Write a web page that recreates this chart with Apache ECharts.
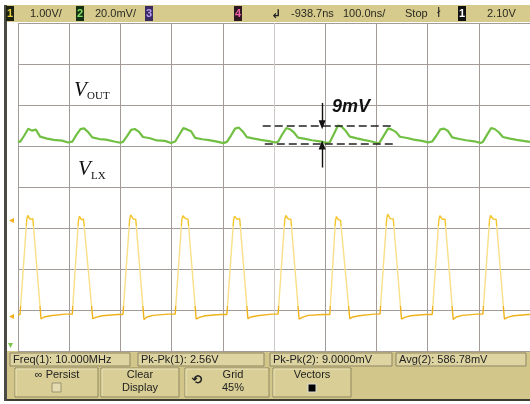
<!DOCTYPE html>
<html><head><meta charset="utf-8">
<script src="https://cdn.jsdelivr.net/npm/echarts/dist/echarts.min.js"></script>
<style>html,body{margin:0;padding:0;background:#fff;}#c{width:530px;height:404px;}</style>
</head><body><div id="c"></div>
<script>
// ---- time base (ns), 100 ns/div, 10 divisions ----
const timeTicks = [0,100,200,300,400,500,600,700,800,900,1000];

// ---- Channel 2 (V_OUT, mV) ----
const greenT = [0,
  4,12,20,27,35,43,57,70,86,98,
  106,114,122,129,137,145,159,172,188,200,
  205,213,221,228,236,244,258,271,287,299,
  307,315,323,330,338,346,360,373,389,401,
  408,416,424,431,439,447,461,474,490,502,
  508,516,524,531,539,547,561,574,590,602,
  609,617,625,632,640,648,662,675,691,703,
  707,715,723,730,738,746,760,773,789,801,
  809,817,825,832,840,848,862,875,891,903,
  908,916,924,931,939,947,961,974,990,1000];
const greenV = [583.4,
  583.0,586.0,589.4,588.5,589.0,585.6,584.6,584.0,583.6,582.7,
  583.1,586.4,589.2,589.6,587.8,585.2,584.4,584.1,583.2,582.6,
  583.0,585.8,588.9,589.3,588.0,585.4,584.8,583.7,583.5,582.5,
  583.2,586.5,589.7,589.1,588.2,585.0,584.3,583.9,583.1,582.4,
  583.0,586.1,589.5,590.0,588.1,585.3,584.6,584.0,583.4,582.7,
  583.1,586.6,589.8,589.2,587.6,585.1,584.5,583.8,583.3,582.5,
  582.8,586.9,591.0,590.4,588.4,585.6,584.7,584.0,583.2,582.3,
  583.0,586.3,589.6,589.0,587.9,585.5,584.9,584.1,583.5,582.8,
  583.2,586.0,589.1,589.5,588.3,585.2,584.4,583.8,583.3,582.5,
  583.0,586.4,589.7,589.3,587.7,585.4,584.6,584.0,583.4,583.0];

// ---- Channel 1 (V_LX, V) ----
const yellowT = [0,
  4,17,19,24,29,45,51,63,92,
  106,118,120,124,128,146,152,164,194,
  205,218,220,225,230,246,252,264,293,
  307,320,322,327,332,348,354,366,395,
  408,421,423,428,433,449,455,467,496,
  508,521,523,528,533,549,555,567,596,
  609,620,622,626,630,648,654,666,695,
  707,720,722,727,733,749,755,767,795,
  809,822,824,829,834,850,856,868,897,
  908,921,923,928,934,950,956,968,996,1000];
const yellowV = [0.03,
  0.04,2.34,2.46,2.36,2.38,-0.07,-0.02,0.01,0.05,
  0.05,2.33,2.44,2.35,2.37,-0.06,-0.03,0.01,0.04,
  0.04,2.35,2.47,2.37,2.36,-0.08,-0.02,0.02,0.05,
  0.05,2.36,2.45,2.38,2.37,-0.07,-0.03,0.01,0.04,
  0.04,2.34,2.44,2.36,2.38,-0.06,-0.02,0.01,0.05,
  0.05,2.35,2.46,2.37,2.36,-0.07,-0.03,0.02,0.04,
  0.04,2.33,2.43,2.35,2.34,-0.06,-0.02,0.01,0.05,
  0.05,2.36,2.49,2.38,2.37,-0.07,-0.03,0.01,0.04,
  0.04,2.35,2.45,2.36,2.37,-0.08,-0.02,0.02,0.05,
  0.05,2.35,2.46,2.37,2.36,-0.07,-0.03,0.01,0.04,0.04];

// ---- 9 mV measurement cursors (mV on channel 2) ----
const cursorHigh = 591.0, cursorLow = 582.3;
const cursorT = [478, 731];
const arrowT = 594;

// ---- labels ----
const headerLeft = ['1.00V/', '20.0mV/'];
const headerRight = ['-938.7ns', '100.0ns/', 'Stop', '2.10V'];
const measurements = ['Freq(1): 10.000MHz', 'Pk-Pk(1): 2.56V', 'Pk-Pk(2): 9.0000mV', 'Avg(2): 586.78mV'];

const chart = echarts.init(document.getElementById('c'), null, {renderer:'canvas'});
const gridCol = '#a39b98';
const vCols = [];
for (let i = 0; i <= 10; i++) vCols.push(i === 5 ? '#cfcac8' : gridCol);

const F = '"Liberation Sans", Arial, sans-serif';
const g = [];
// background panels
g.push({type:'rect', z:0, shape:{x:5,y:5,width:525,height:17}, style:{fill:'#d6ca8c'}});
g.push({type:'rect', z:0, shape:{x:5,y:351,width:525,height:49}, style:{fill:'#d2c68a'}});
g.push({type:'rect', z:0, shape:{x:5,y:399,width:525,height:2}, style:{fill:'#3e3b30'}});
g.push({type:'rect', z:0, shape:{x:4,y:5,width:3,height:396}, style:{fill:'#4b4a44'}});
// header badges
function badge(x, txt, bg, fg){
  g.push({type:'rect', z:1, shape:{x:x,y:6,width:8,height:15}, style:{fill:bg}});
  g.push({type:'text', z:2, x:x+4, y:14, style:{text:txt, fill:fg, font:'bold 11px '+F, textAlign:'center', textVerticalAlign:'middle'}});
}
badge(6,'1','#1c2212','#e6cf3c');
badge(76,'2','#163016','#86e060');
badge(145,'3','#3a2c62','#b89af0');
badge(234,'4','#2c1820','#f062a8');
badge(458,'1','#111111','#ffffff');
function ht(x, txt){ g.push({type:'text', z:2, x:x, y:14, style:{text:txt, fill:'#2a2a22', font:'11px '+F, textVerticalAlign:'middle'}}); }
ht(30, headerLeft[0]);
ht(95, headerLeft[1]);
g.push({type:'text', z:2, x:271, y:15, style:{text:'↲', fill:'#222', font:'bold 12px "DejaVu Sans"', textVerticalAlign:'middle'}});
ht(291, headerRight[0]);
ht(343, headerRight[1]);
ht(405, headerRight[2]);
g.push({type:'text', z:2, x:437, y:14, style:{text:'ł', fill:'#222', font:'12px "DejaVu Sans"', textVerticalAlign:'middle'}});
ht(487, headerRight[3]);
// measurement boxes
const boxes = [[10,120],[138,126],[270,122],[396,130]];
boxes.forEach((b,i)=>{
  g.push({type:'rect', z:1, shape:{x:b[0],y:353,width:b[1],height:13}, style:{fill:'#ddd4a2', stroke:'#8c8462', lineWidth:1}});
  g.push({type:'text', z:2, x:b[0]+3, y:360, style:{text:measurements[i], fill:'#222', font:'11px '+F, textVerticalAlign:'middle'}});
});
// buttons
const btns = [[15,83],[101,78],[185,84],[273,78]];
btns.forEach(b=>{
  g.push({type:'rect', z:1, shape:{x:b[0],y:368,width:b[1],height:29}, style:{fill:'#d9ce96', stroke:'#8f875e', lineWidth:1}});
  g.push({type:'polyline', z:2, shape:{points:[[b[0]+1,396],[b[0]+1,369],[b[0]+b[1]-1,369]]}, style:{stroke:'#eee6bc', lineWidth:1, fill:null}});
});
function bt(x,y,txt,extra){ g.push({type:'text', z:3, x:x, y:y, style:Object.assign({text:txt, fill:'#222', font:'11px '+F, textAlign:'center', textVerticalAlign:'middle'}, extra||{})}); }
bt(57,375,'∞ Persist');
g.push({type:'rect', z:3, shape:{x:52,y:383,width:9,height:9}, style:{fill:'#e4dcb0', stroke:'#9a9270'}});
bt(140,375,'Clear'); bt(140,388,'Display');
bt(197,381,'⟲', {font:'bold 13px "DejaVu Sans"'});
bt(233,375,'Grid'); bt(233,388,'45%');
bt(312,375,'Vectors');
g.push({type:'rect', z:3, shape:{x:308,y:384,width:8,height:8}, style:{fill:'#000', stroke:'#ddd', lineWidth:1}});
// channel labels
g.push({type:'text', z:10, x:74, y:80, style:{text:'V', fill:'#111', font:'italic 21px "Liberation Serif", serif'}});
g.push({type:'text', z:10, x:87, y:91, style:{text:'OUT', fill:'#111', font:'11px "Liberation Serif", serif'}});
g.push({type:'text', z:10, x:78, y:159, style:{text:'V', fill:'#111', font:'italic 21px "Liberation Serif", serif'}});
g.push({type:'text', z:10, x:91, y:171, style:{text:'LX', fill:'#111', font:'11px "Liberation Serif", serif'}});
g.push({type:'text', z:10, x:332, y:98, style:{text:'9mV', fill:'#111', font:'italic bold 18px '+F}});
// left reference markers
g.push({type:'text', z:10, x:9, y:220, style:{text:'◂', fill:'#f0b020', font:'10px "DejaVu Sans"', textVerticalAlign:'middle'}});
g.push({type:'text', z:10, x:9, y:316, style:{text:'◂', fill:'#f0b020', font:'10px "DejaVu Sans"', textVerticalAlign:'middle'}});
g.push({type:'text', z:10, x:8, y:345, style:{text:'▾', fill:'#7cc44a', font:'10px "DejaVu Sans"', textVerticalAlign:'middle'}});

const option = {
  animation:false,
  backgroundColor:'#ffffff',
  grid:{left:18, top:23, width:512, height:328, show:false},
  visualMap:{show:false, type:'piecewise', seriesIndex:0, dimension:1,
    pieces:[{lt:0.25, color:'#efb21a'},{gte:0.25, lt:2.2, color:'#f9df86'},{gte:2.2, color:'#f4c52c'}]},
  xAxis:{type:'value', min:timeTicks[0], max:timeTicks[timeTicks.length-1], interval:100,
    axisLine:{show:false}, axisTick:{show:false}, axisLabel:{show:false},
    splitLine:{show:true, lineStyle:{color:vCols, width:1}}},
  yAxis:[
    {type:'value', min:0, max:8, interval:1, axisLine:{show:false}, axisTick:{show:false}, axisLabel:{show:false},
      splitLine:{show:true, lineStyle:{color:gridCol, width:1}}},
    {type:'value', min:-0.85, max:7.15, show:false, splitLine:{show:false}},
    {type:'value', min:481, max:641, show:false, splitLine:{show:false}}
  ],
  series:[
    {type:'line', name:'V_LX', xAxisIndex:0, yAxisIndex:1, showSymbol:false, symbol:'none',
      data: yellowT.map((t,i)=>[t, yellowV[i]]),
      lineStyle:{width:1.4}, z:3},
    {type:'line', name:'V_OUT', xAxisIndex:0, yAxisIndex:2, showSymbol:false, symbol:'none',
      data: greenT.map((t,i)=>[t, greenV[i]]),
      lineStyle:{color:'#72c043', width:2.2}, itemStyle:{color:'#72c043'}, z:4,
      markLine:{silent:true, symbol:['none','none'], label:{show:false},
        lineStyle:{color:'#222', type:[8,4], width:1.6},
        data:[
          [{coord:[cursorT[0], cursorHigh]},{coord:[cursorT[1], cursorHigh]}],
          [{coord:[cursorT[0]+4, cursorLow]},{coord:[cursorT[1]+2, cursorLow]}]
        ]}},
    {type:'line', name:'arrows', xAxisIndex:0, yAxisIndex:2, showSymbol:false, data:[], z:5,
      markLine:{silent:true, symbol:['none','triangle'], symbolSize:[7,9], label:{show:false},
        lineStyle:{color:'#111', type:'solid', width:1.4},
        data:[
          [{coord:[arrowT, 602]},{coord:[arrowT, cursorHigh+0.4]}],
          [{coord:[arrowT, 570.5]},{coord:[arrowT, cursorLow-0.8]}]
        ]}}
  ],
  graphic:{elements:g}
};
chart.setOption(option);
</script></body></html>
